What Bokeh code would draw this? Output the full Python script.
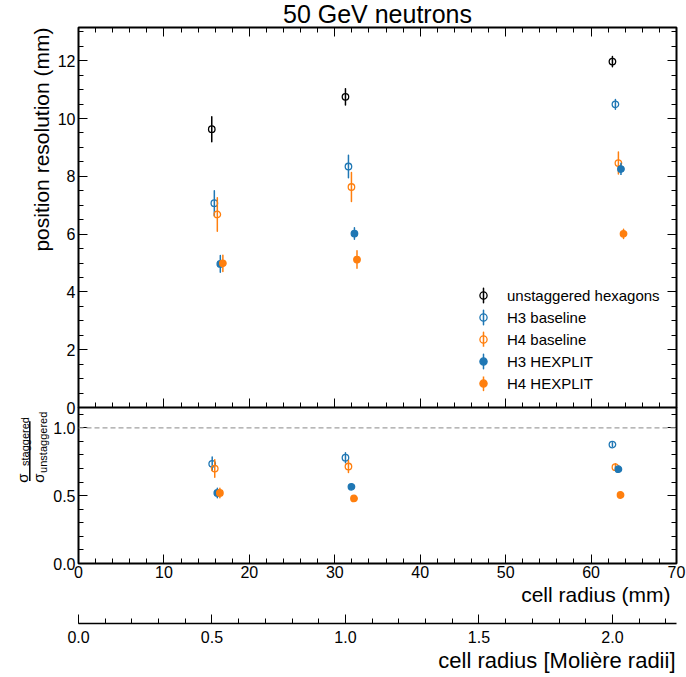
import numpy as np
from bokeh.plotting import figure
from bokeh.models import (Range1d, LinearAxis, FixedTicker, Legend, LegendItem,
                          Label, Span, Arrow, Title, PrintfTickFormatter, Grid,
                          CustomLabelingPolicy)
from bokeh.layouts import column, row
from bokeh.embed import file_html
from bokeh.resources import INLINE

# ---------------- texts ----------------
TITLE = "50 GeV neutrons"
YLABEL_TOP = "position resolution (mm)"
XLABEL_MM = "cell radius (mm)"
XLABEL_RM = "cell radius [Molière radii]"
series_names = ["unstaggered hexagons", "H3 baseline", "H4 baseline",
                "H3 HEXPLIT", "H4 HEXPLIT"]

# ---------------- axes ----------------
MOLIERE_RADIUS_MM = 31.25
x_range_mm = [0, 70]
y_range_top = [0, 13.15]
y_range_ratio = [0, 1.15]
x_ticks = [0, 10, 20, 30, 40, 50, 60, 70]
y_ticks_top = [0, 2, 4, 6, 8, 10, 12]
y_ticks_ratio = [0.0, 0.5, 1.0]
rm_ticks = [0.0, 0.5, 1.0, 1.5, 2.0]
ratio_reference = 1.0

# ---------------- top panel data: position resolution (mm) ----------------
unstag_x = [15.6, 31.25, 62.5]
unstag_y = [9.63, 10.75, 11.97]
unstag_err = [0.43, 0.28, 0.18]

h3_base_x = [15.9, 31.6, 62.85]
h3_base_y = [7.07, 8.34, 10.49]
h3_base_err = [0.43, 0.39, 0.17]

h4_base_x = [16.25, 31.95, 63.2]
h4_base_y = [6.68, 7.63, 8.46]
h4_base_err = [0.58, 0.50, 0.38]

h3_hex_x = [16.6, 32.3, 63.5]
h3_hex_y = [4.97, 6.02, 8.25]
h3_hex_err = [0.29, 0.20, 0.20]

h4_hex_x = [16.9, 32.6, 63.8]
h4_hex_y = [4.99, 5.12, 6.01]
h4_hex_err = [0.28, 0.30, 0.16]

# ---------------- bottom panel data: sigma_staggered / sigma_unstaggered ----------------
r_h3_base_x = [15.65, 31.25, 62.5]
r_h3_base_y = [0.735, 0.78, 0.877]
r_h3_base_err = [0.05, 0.037, 0.015]

r_h4_base_x = [15.95, 31.6, 62.85]
r_h4_base_y = [0.70, 0.715, 0.71]
r_h4_base_err = [0.065, 0.045, 0.025]

r_h3_hex_x = [16.25, 31.95, 63.2]
r_h3_hex_y = [0.52, 0.565, 0.695]
r_h3_hex_err = [0.035, 0.015, 0.012]

r_h4_hex_x = [16.55, 32.25, 63.45]
r_h4_hex_y = [0.52, 0.48, 0.505]
r_h4_hex_err = [0.035, 0.02, 0.01]

# ---------------- styles ----------------
BLACK = "#000000"
BLUE = "#1f77b4"
ORANGE = "#ff7f0e"
FONT = "Liberation Sans"

NO_LABELS = """
const ids = [...indices]
for (const i of ids) indices.unset(i)
return indices
"""


def minor(lo, hi, step):
    return [round(v, 4) for v in np.arange(lo, hi + step / 2, step)]


def make_axis(ticks, minors, labels=True, fmt=None, **kw):
    ax = LinearAxis(ticker=FixedTicker(ticks=ticks, minor_ticks=minors), **kw)
    ax.axis_line_color = None
    ax.major_tick_in = 9
    ax.major_tick_out = 0
    ax.minor_tick_in = 5
    ax.minor_tick_out = 0
    ax.major_tick_line_color = "black"
    ax.minor_tick_line_color = "black"
    ax.major_tick_line_width = 1
    ax.minor_tick_line_width = 1
    if labels:
        ax.major_label_text_font = FONT
        ax.major_label_text_font_size = "16px"
        ax.major_label_text_color = "black"
        ax.major_label_standoff = 3
    else:
        ax.major_label_text_font_size = "0px"
        ax.major_label_standoff = 0
        ax.major_label_policy = CustomLabelingPolicy(code=NO_LABELS)
    if fmt:
        ax.formatter = PrintfTickFormatter(format=fmt)
    return ax


def axis_title(text, standoff=0, offset=0, size="21px"):
    return Title(text=text, align="right", standoff=standoff, offset=offset,
                 text_font=FONT, text_font_size=size, text_font_style="normal",
                 text_color="black")


def base_fig(**kw):
    p = figure(output_backend="svg", toolbar_location=None,
               x_axis_location=None, y_axis_location=None, **kw)
    p.center = [r for r in p.center if not isinstance(r, Grid)]
    p.outline_line_color = "black"
    p.outline_line_width = 2
    p.outline_line_alpha = 1
    p.background_fill_color = "white"
    p.border_fill_color = "white"
    return p


def draw(p, x, y, err, color, hollow):
    e = p.ellipse(x=x, y=y, width=0.01, width_units="screen",
                  height=[2 * v for v in err],
                  fill_color=color, line_color=color, line_width=1.5)
    s = p.scatter(x=x, y=y, marker="circle", size=6.5, line_color=color,
                  line_width=1.3, fill_color=color,
                  fill_alpha=0 if hollow else 1)
    return [e, s]


# ---------------- top figure ----------------
OVERLAP = 9
SHIFT_UP = 3
top = base_fig(width=686, height=SHIFT_UP + 407 + OVERLAP,
               x_range=Range1d(*x_range_mm), y_range=Range1d(*y_range_top),
               min_border_left=78, min_border_right=10,
               min_border_top=27, min_border_bottom=OVERLAP)
top.styles = {"margin-top": f"-{SHIFT_UP}px"}
top.title.text = TITLE
top.title.align = "center"
top.title.text_font = FONT
top.title.text_font_size = "25px"
top.title.text_font_style = "normal"
top.title.text_color = "black"
top.title.standoff = 0

xminor = minor(0, 70, 2)
top.add_layout(make_axis(y_ticks_top, minor(0, 13, 0.5)), "left")
top.add_layout(axis_title(YLABEL_TOP, standoff=4), "left")
top.add_layout(make_axis(y_ticks_top, minor(0, 13, 0.5), labels=False), "right")
top.add_layout(make_axis(x_ticks, xminor, labels=False), "above")
top.add_layout(make_axis(x_ticks, xminor, labels=False), "below")

r0 = draw(top, unstag_x, unstag_y, unstag_err, BLACK, True)
r1 = draw(top, h3_base_x, h3_base_y, h3_base_err, BLUE, True)
r2 = draw(top, h4_base_x, h4_base_y, h4_base_err, ORANGE, True)
r3 = draw(top, h3_hex_x, h3_hex_y, h3_hex_err, BLUE, False)
r4 = draw(top, h4_hex_x, h4_hex_y, h4_hex_err, ORANGE, False)

legend = Legend(items=[LegendItem(label=n, renderers=r)
                       for n, r in zip(series_names, [r0, r1, r2, r3, r4])],
                location=(396, 15), glyph_width=18, glyph_height=18,
                label_height=18, label_standoff=15, spacing=4, padding=0,
                margin=0, border_line_color=None, background_fill_alpha=0,
                label_text_font=FONT, label_text_font_size="15px",
                label_text_color="black")
top.add_layout(legend)

# ---------------- bottom figure (ratio) ----------------
BOT_H = 270
BOT_BELOW = 114
LAB_W = 50
bot = base_fig(width=686 - LAB_W, height=BOT_H,
               x_range=top.x_range, y_range=Range1d(*y_range_ratio),
               extra_x_ranges={"rm": Range1d(0, x_range_mm[1] / MOLIERE_RADIUS_MM)},
               min_border_left=78 - LAB_W, min_border_right=10,
               min_border_top=0, min_border_bottom=BOT_BELOW)
bot.border_fill_alpha = 0

bot.add_layout(make_axis(y_ticks_ratio, minor(0, 1.1, 0.1), fmt="%.1f"), "left")
bot.add_layout(make_axis(y_ticks_ratio, minor(0, 1.1, 0.1), labels=False), "right")

xb = make_axis(x_ticks, xminor)
xb.major_label_standoff = 2
bot.add_layout(xb, "below")
bot.add_layout(axis_title(XLABEL_MM, standoff=0, offset=6), "below")

bot.add_layout(Title(text=" ", text_font_size="14.5px", standoff=0), "below")

xrm = make_axis(rm_ticks, minor(0, 2.2, 0.1), fmt="%.1f", x_range_name="rm")
xrm.axis_line_color = "black"
xrm.axis_line_width = 1.5
xrm.major_label_standoff = 7
bot.add_layout(xrm, "below")
bot.add_layout(axis_title(XLABEL_RM, standoff=0, offset=1, size="22px"), "below")

bot.add_layout(Span(location=ratio_reference, dimension="width",
                    line_color="#a0a0a0", line_dash="5 3", line_width=1.2))

draw(bot, r_h3_base_x, r_h3_base_y, r_h3_base_err, BLUE, True)
draw(bot, r_h4_base_x, r_h4_base_y, r_h4_base_err, ORANGE, True)
draw(bot, r_h3_hex_x, r_h3_hex_y, r_h3_hex_err, BLUE, False)
draw(bot, r_h4_hex_x, r_h4_hex_y, r_h4_hex_err, ORANGE, False)

# ---------------- ratio y-axis label: sigma_staggered / sigma_unstaggered ----------------
lab = figure(width=LAB_W, height=BOT_H, output_backend="svg", toolbar_location=None,
             x_axis_location=None, y_axis_location=None,
             x_range=Range1d(0, LAB_W), y_range=Range1d(*y_range_ratio),
             min_border_left=0, min_border_right=0, min_border_top=0,
             min_border_bottom=BOT_BELOW)
lab.center = [r for r in lab.center if not isinstance(r, Grid)]
lab.outline_line_color = None
lab.border_fill_alpha = 0
lab.background_fill_alpha = 0

ang = np.pi / 2
for txt, xx, yy, fs in [("σ", 22.0, 0.595, "15px"),
                        ("staggered", 24.5, 0.719, "11px"),
                        ("σ", 37.5, 0.595, "15px"),
                        ("unstaggered", 42.0, 0.668, "11px")]:
    lab.add_layout(Label(x=xx, y=yy, text=txt, angle=ang, text_align="left",
                         text_baseline="alphabetic", text_font=FONT,
                         text_font_size=fs, text_color="black"))
lab.add_layout(Arrow(x_start=29.3, y_start=0.609, x_end=29.3, y_end=1.048,
                     start=None, end=None, line_width=1.5, line_color="black"))

lower = row(lab, bot, spacing=0, styles={"margin-top": f"-{OVERLAP}px"})
layout = column(top, lower, spacing=0)
open("out.html", "w").write(file_html(layout, INLINE))
